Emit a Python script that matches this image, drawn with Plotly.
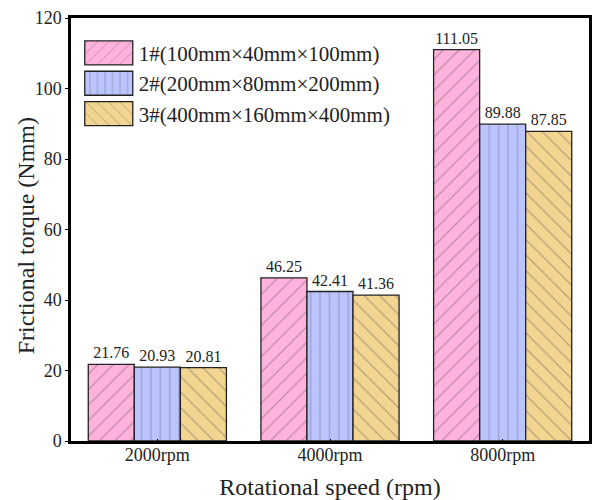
import plotly.graph_objects as go

categories = ["2000rpm", "4000rpm", "8000rpm"]
series_names = ["1#(100mm×40mm×100mm)", "2#(200mm×80mm×200mm)", "3#(400mm×160mm×400mm)"]
s1 = [21.76, 46.25, 111.05]
s2 = [20.93, 42.41, 89.88]
s3 = [20.81, 41.36, 87.85]
y_ticks = [0, 20, 40, 60, 80, 100, 120]

colors = ["#FFB2DC", "#BBC4FF", "#F2D590"]
patterns = ["/", "|", "\\"]
FONT = "Liberation Serif, Times New Roman, serif"

fig = go.Figure()
for name, vals, col, pat in zip(series_names, [s1, s2, s3], colors, patterns):
    fig.add_trace(go.Bar(
        x=categories, y=vals, name=name,
        marker=dict(color=col, line=dict(color="#222222", width=1.3),
                    pattern=dict(shape=pat, fgcolor="#555555", size=11 if pat != "|" else 9.4,
                                 solidity=0.09)),
        text=[f"{v:.2f}" for v in vals], textposition="outside",
        textfont=dict(family=FONT, size=16, color="#222222"),
        cliponaxis=False,
    ))

fig.update_layout(
    width=592, height=500,
    margin=dict(l=71, r=0, t=18, b=59),
    paper_bgcolor="white", plot_bgcolor="white",
    barmode="group", bargap=0.2, bargroupgap=0,
    font=dict(family=FONT, color="#222222"),
    showlegend=True,
    legend=dict(x=0.015, y=0.965, xanchor="left", yanchor="top",
                font=dict(family=FONT, size=21, color="#222222"),
                bgcolor="rgba(0,0,0,0)", itemwidth=50, tracegroupgap=0),
    annotations=[dict(text="Frictional torque (Nmm)", textangle=-90,
                      xref="paper", yref="paper", x=-0.088, y=0.485,
                      xanchor="center", yanchor="middle", showarrow=False,
                      font=dict(family=FONT, size=24, color="#222222"))],
)
fig.update_xaxes(
    range=[-0.5, 2.5], showline=True, linecolor="black", linewidth=2.5, mirror=True,
    ticks="inside", ticklen=2, tickcolor="black", ticklabelstandoff=-4,
    tickfont=dict(family=FONT, size=18, color="#222222"),
    title=dict(text="Rotational speed (rpm)", font=dict(family=FONT, size=24, color="#222222"), standoff=14),
    showgrid=False,
)
fig.update_yaxes(
    range=[0, 120], tickvals=y_ticks, showline=True, linecolor="black", linewidth=2.5, mirror=True,
    ticks="outside", ticklen=3, tickcolor="black",
    tickfont=dict(family=FONT, size=18, color="#222222"),
    showgrid=False, zeroline=False,
)

post = """
document.body.style.margin = '0';
document.body.style.padding = '0';
var gd = document.getElementById('{plot_id}');
function bigSwatch(){
  var ps = gd.querySelectorAll('.legend .legendpoints path');
  ps.forEach(function(p){ p.setAttribute('d','M24,12H-24V-12H24Z'); });
}
bigSwatch();
"""
fig.write_html("out.html", post_script=post, config={"displayModeBar": False})
